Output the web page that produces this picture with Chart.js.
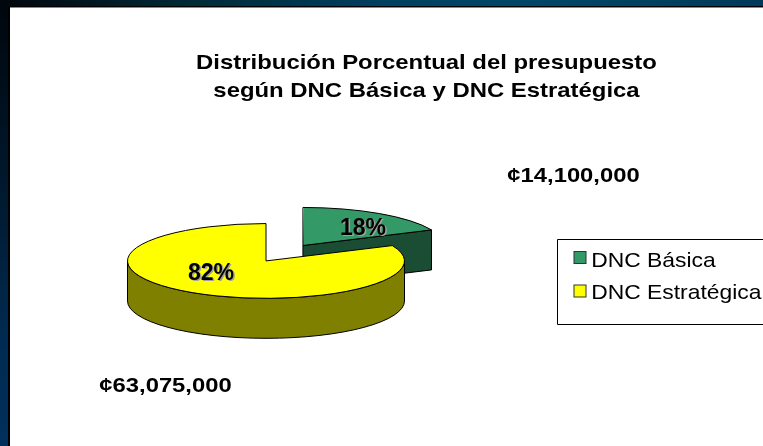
<!DOCTYPE html>
<html>
<head>
<meta charset="utf-8">
<script src="https://cdn.jsdelivr.net/npm/chart.js@4/dist/chart.umd.min.js"></script>
<style>
  html, body { margin: 0; width: 763px; height: 446px; overflow: hidden; background: #000; }
  #left { position: absolute; left: 0; top: 0; width: 8px; height: 446px;
    background: linear-gradient(180deg, #00060c 0%, #001a30 45%, #002a50 75%, #00305c 100%); }
  #top { position: absolute; left: 0; top: 0; width: 763px; height: 6px;
    background: linear-gradient(90deg, #00060c 0%, #002a38 25%, #004060 50%, #004668 70%, #003a58 100%); }
  #panel { position: absolute; left: 10px; top: 7px; width: 753px; height: 439px; background: #fff; border-top: 1px solid #888; box-sizing: border-box; }
  canvas { position: absolute; left: 0; top: 0; }
</style>
</head>
<body>
<div id="left"></div>
<div id="top"></div>
<div id="panel"></div>
<canvas id="pie-chart" width="763" height="446"></canvas>
<script>
const categories = ['DNC Básica', 'DNC Estratégica'];
const budget = [14100000, 63075000];
const amountLabels = ['¢14,100,000', '¢63,075,000'];
const titleLines = ['Distribución Porcentual del presupuesto', 'según DNC Básica y DNC Estratégica'];

const topColors = ['#339966', '#ffff00'];
const wallColors = ['#1a4d33', '#808000'];

// the pie is flattened so it reads as a tilted disc
const SQUASH = 0.27;
const DEPTH = 40;
// Chart.js grows an exploded slice a little, take it back
const EXPLODE_TRIM = 3.5;

const arcGeometry = el => {
  const off = el.options.offset / 4;
  const mid = (el.startAngle + el.endAngle) / 2;
  const circ = el.endAngle - el.startAngle;
  const x = el.x + Math.cos(mid) * off;
  const y = el.y + Math.sin(mid) * off * SQUASH;
  const r = el.outerRadius + off * (1 - Math.sin(Math.min(Math.PI, circ)));
  return { x, y, r, start: el.startAngle, end: el.endAngle };
};

const pointOn = (g, angle) => ({
  x: g.x + Math.cos(angle) * g.r,
  y: g.y + Math.sin(angle) * g.r * SQUASH,
});

// side of one slice: the cut face and whatever part of the rim faces the viewer
const drawWall = (ctx, el, color) => {
  const g = arcGeometry(el);
  ctx.fillStyle = color;
  ctx.strokeStyle = '#000';
  ctx.lineWidth = 1;

  const tip = pointOn(g, g.end);
  if (Math.cos(g.end) > 0 && g.end < Math.PI / 2) {
    ctx.beginPath();
    ctx.moveTo(g.x, g.y);
    ctx.lineTo(tip.x, tip.y);
    ctx.lineTo(tip.x, tip.y + DEPTH);
    ctx.lineTo(g.x, g.y + DEPTH);
    ctx.closePath();
    ctx.fill();
    ctx.stroke();
  }

  const from = Math.max(g.start, 0);
  const to = Math.min(g.end, Math.PI);
  if (to > from) {
    const a = pointOn(g, from);
    const b = pointOn(g, to);
    ctx.beginPath();
    ctx.moveTo(a.x, a.y);
    ctx.ellipse(g.x, g.y, g.r, g.r * SQUASH, 0, from, to);
    ctx.lineTo(b.x, b.y + DEPTH);
    ctx.ellipse(g.x, g.y + DEPTH, g.r, g.r * SQUASH, 0, to, from, true);
    ctx.closePath();
    ctx.fill();
    ctx.stroke();
  }
};

const pie3d = {
  id: 'pie3d',
  afterDatasetsUpdate(chart) {
    chart.getDatasetMeta(0).data[0].outerRadius -= EXPLODE_TRIM;
  },
  beforeDatasetDraw(chart) {
    const ctx = chart.ctx;
    const arcs = chart.getDatasetMeta(0).data;
    arcs.forEach((el, i) => drawWall(ctx, el, wallColors[i]));
    ctx.save();
    ctx.translate(0, arcs[0].y);
    ctx.scale(1, SQUASH);
    ctx.translate(0, -arcs[0].y);
  },
  afterDatasetDraw(chart) {
    const ctx = chart.ctx;
    ctx.restore();
    // outline done here so the flattening does not thin the line
    chart.getDatasetMeta(0).data.forEach(el => {
      const g = arcGeometry(el);
      ctx.strokeStyle = '#000';
      ctx.lineWidth = 1;
      ctx.beginPath();
      ctx.moveTo(g.x, g.y);
      ctx.ellipse(g.x, g.y, g.r, g.r * SQUASH, 0, g.start, g.end);
      ctx.closePath();
      ctx.stroke();
    });
  },
};

// the slide's text is wider than the font, stretch it around a fixed x
const stretchBox = (chart, box, sx, originX) => {
  const draw = box.draw;
  box.draw = function (area) {
    const ctx = chart.ctx;
    ctx.save();
    ctx.translate(originX, 0);
    ctx.scale(sx, 1);
    ctx.translate(-originX, 0);
    draw.call(this, area);
    ctx.restore();
  };
};

let stretched = false;

const annotations = {
  id: 'annotations',
  afterLayout(chart) {
    // title and legend sit where the slide had them
    const title = chart.titleBlock;
    title.left = 196;
    title.right = 657;
    const legend = chart.legend;
    legend.left = 561;
    legend.top = 239.5;
    legend.right = 763;
    legend.bottom = 446;
    if (!stretched) {
      stretchBox(chart, title, 1.138, 426.5);
      stretchBox(chart, legend, 1.089, 589.5);
      stretched = true;
    }
  },
  afterDraw(chart) {
    const ctx = chart.ctx;
    const total = budget.reduce((a, b) => a + b, 0);
    const arcs = chart.getDatasetMeta(0).data;
    const spots = [[363, 228.5], [211, 273.5]];
    const amountSpots = [[573.5, 176], [165.5, 386]];

    ctx.save();
    ctx.textAlign = 'center';
    ctx.textBaseline = 'middle';
    ctx.font = 'bold 23px "Liberation Sans"';
    arcs.forEach((el, i) => {
      const text = Math.round(budget[i] / total * 100) + '%';
      ctx.fillStyle = '#a0a0a0';
      ctx.fillText(text, spots[i][0] + 1.5, spots[i][1] + 1.5);
      ctx.fillStyle = '#000';
      ctx.fillText(text, spots[i][0], spots[i][1]);
    });
    ctx.font = 'bold 20px "Liberation Sans"';
    ctx.fillStyle = '#000';
    amountLabels.forEach((text, i) => {
      ctx.save();
      ctx.translate(amountSpots[i][0], amountSpots[i][1]);
      ctx.scale(1.19, 1);
      ctx.fillText(text, 0, 0);
      ctx.restore();
    });

    // legend frame and swatches
    ctx.strokeStyle = '#000';
    ctx.lineWidth = 1;
    ctx.beginPath();
    ctx.moveTo(770, 239.5);
    ctx.lineTo(557.5, 239.5);
    ctx.lineTo(557.5, 324.5);
    ctx.lineTo(770, 324.5);
    ctx.stroke();
    chart.legend.legendHitBoxes.forEach((box, i) => {
      ctx.fillStyle = topColors[i];
      ctx.fillRect(box.left + 2, box.top + 1 + i * 1.5, 12, 12);
      ctx.strokeStyle = '#333';
      ctx.strokeRect(box.left + 2, box.top + 1 + i * 1.5, 12, 12);
    });
    ctx.restore();
  },
};

new Chart(document.getElementById('pie-chart').getContext('2d'), {
  type: 'pie',
  data: {
    labels: categories,
    datasets: [{
      data: budget,
      backgroundColor: topColors,
      borderWidth: 0,
      offset: [272, 0],
      radius: 138.5,
    }],
  },
  options: {
    responsive: false,
    animation: false,
    layout: { padding: { right: 231, bottom: 29 } },
    plugins: {
      tooltip: { enabled: false },
      title: {
        display: true,
        text: titleLines,
        color: '#000',
        font: { family: '"Liberation Sans"', size: 21, weight: 'bold', lineHeight: 1.33 },
        padding: { top: 49, bottom: 0 },
      },
      legend: {
        position: 'chartArea',
        align: 'start',
        labels: {
          color: '#000',
          font: { family: '"Liberation Sans"', size: 21 },
          boxWidth: 8.5,
          boxHeight: 12,
          padding: 11,
          generateLabels: chart => categories.map((text, index) => ({
            text,
            index,
            fillStyle: 'transparent',
            strokeStyle: 'transparent',
            lineWidth: 0,
          })),
        },
      },
    },
  },
  plugins: [pie3d, annotations],
});
</script>
</body>
</html>
